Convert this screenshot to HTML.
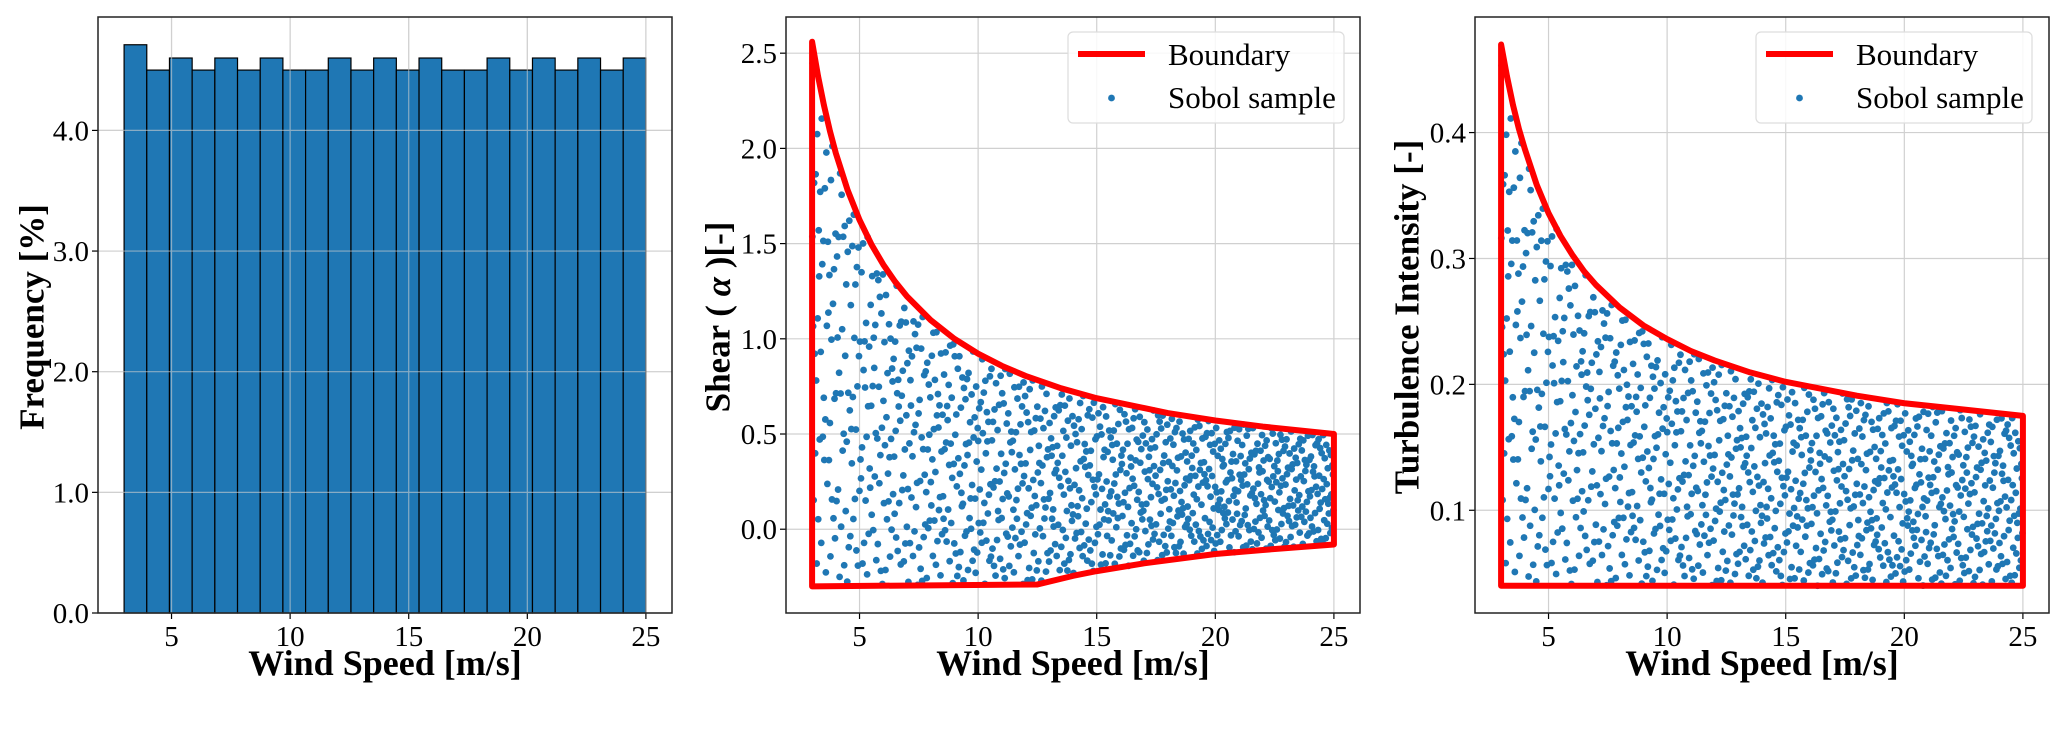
<!DOCTYPE html>
<html><head><meta charset="utf-8"><style>
html,body{margin:0;padding:0;background:#fff}
svg{display:block}
text{font-family:"Liberation Serif",serif;fill:#000}
</style></head><body>
<svg id="fig" width="2067" height="731" viewBox="0 0 2067 731" xmlns="http://www.w3.org/2000/svg"></svg>
<script>
// ---- Data ----
const histBinStart = 3, histBinEnd = 25;
const histFreq = [4.71,4.5,4.6,4.5,4.6,4.5,4.6,4.5,4.5,4.6,4.5,4.6,4.5,4.6,4.5,4.5,4.6,4.5,4.6,4.5,4.6,4.5,4.6];
const histYTicks = [0,1,2,3,4];
const histYTickLabels = ["0.0","1.0","2.0","3.0","4.0"];
const xTicks = [5,10,15,20,25];
const xTickLabels = ["5","10","15","20","25"];

const shearUpperX = [3,3.25,3.5,3.75,4,4.5,5,5.5,6,6.5,7,8,9,10,11,12,13.5,15,18,20,22,25];
const shearUpperY = [2.56,2.38,2.226,2.092,1.975,1.78,1.624,1.496,1.39,1.30,1.223,1.098,1.0,0.922,0.858,0.805,0.74,0.688,0.61,0.571,0.539,0.50];
const shearLowerX = [3,12.5,14,15,17,20,22,25];
const shearLowerY = [-0.3,-0.29,-0.245,-0.22,-0.179,-0.13,-0.109,-0.08];
const shearYTicks = [0,0.5,1,1.5,2,2.5];
const shearYTickLabels = ["0.0","0.5","1.0","1.5","2.0","2.5"];

const tiUpperX = [3,3.25,3.5,3.75,4,4.5,5,5.5,6,6.5,7,8,9,10,11,12,13.5,15,18,20,22,25];
const tiUpperY = [0.470,0.4445,0.422,0.403,0.387,0.3586,0.336,0.318,0.303,0.2898,0.279,0.261,0.2468,0.236,0.2265,0.219,0.2095,0.202,0.191,0.185,0.181,0.175];
const tiLowerX = [3,25];
const tiLowerY = [0.04,0.04];
const tiYTicks = [0.1,0.2,0.3,0.4];
const tiYTickLabels = ["0.1","0.2","0.3","0.4"];
const sampleCount = 1024;

const NS = "http://www.w3.org/2000/svg";
const svg = document.getElementById('fig');
function el(tag, attrs, parent, txt){
  const e = document.createElementNS(NS, tag);
  for (const k in attrs) e.setAttribute(k, attrs[k]);
  if (txt !== undefined) e.textContent = txt;
  (parent || svg).appendChild(e);
  return e;
}
function lin(d0,d1,r0,r1){ return v => r0 + (v-d0)/(d1-d0)*(r1-r0); }
function interp(xs, ys, x){
  if (x <= xs[0]) return ys[0];
  for (let i=1;i<xs.length;i++){ if (x <= xs[i]){ const t=(x-xs[i-1])/(xs[i]-xs[i-1]); return ys[i-1]+t*(ys[i]-ys[i-1]); } }
  return ys[ys.length-1];
}
function halton(i, b){ let f=1, r=0; while(i>0){ f/=b; r+=f*(i%b); i=Math.floor(i/b);} return r; }

function axes(name, L, R, T, B, xd, yd, yTicks, yLabels, ylabel, ylabelX){
  const g = el('g', {});
  
  
  const X = lin(xd[0], xd[1], L, R), Y = lin(yd[0], yd[1], B, T);
  const grid = el('g', {}, g);
  
  
  xTicks.forEach((t,i)=>{
    const x = X(t);
    el('line', {x1:x, x2:x, y1:T, y2:B, stroke:'#d0d0d0', 'stroke-width':1.2}, grid);
    const tk = el('line', {x1:x, x2:x, y1:B, y2:B+6, stroke:'#000', 'stroke-width':1.2}, g);
    
    
    const tl = el('text', {x:x, y:B+33, 'font-size':29, 'text-anchor':'middle'}, g, xTickLabels[i]);
    
    
  });
  yTicks.forEach((t,i)=>{
    const y = Y(t);
    el('line', {x1:L, x2:R, y1:y, y2:y, stroke:'#d0d0d0', 'stroke-width':1.2}, grid);
    const tk = el('line', {x1:L-6, x2:L, y1:y, y2:y, stroke:'#000', 'stroke-width':1.2}, g);
    
    
    const tl = el('text', {x:L-9, y:y+10, 'font-size':29, 'text-anchor':'end'}, g, yLabels[i]);
    
    
  });
  const xl = el('text', {x:(L+R)/2, y:675, 'font-size':36, 'font-weight':'bold', 'text-anchor':'middle'}, g, 'Wind Speed [m/s]');
  
  
  const cy = 317;
  const yl = el('text', {x:ylabelX, y:cy, 'font-size':35, 'font-weight':'bold', 'text-anchor':'middle', transform:`rotate(-90 ${ylabelX} ${cy})`, 'dominant-baseline':'central'}, g);
  yl.innerHTML = ylabel;
  
  
  return {g, X, Y};
}
function frame(g, L,R,T,B){
  const f = el('rect', {x:L, y:T, width:R-L, height:B-T, fill:'none', stroke:'#222', 'stroke-width':1.5}, g);
  
  
}
function legend(g, L, T, W, H){
  const lg = el('g', {}, g);
  
  
  el('rect', {x:L, y:T, width:W, height:H, rx:5, fill:'rgba(255,255,255,0.85)', stroke:'#ddd', 'stroke-width':1.2}, lg);
  const e1 = el('g', {}, lg);
  
  
  el('line', {x1:L+10, x2:L+77, y1:T+22, y2:T+22, stroke:'#ff0000', 'stroke-width':6}, e1);
  el('text', {x:L+100, y:T+33, 'font-size':31}, e1, 'Boundary');
  const e2 = el('g', {}, lg);
  
  
  el('circle', {cx:L+43.5, cy:T+66, r:3.4, fill:'#1f77b4'}, e2);
  el('text', {x:L+100, y:T+76, 'font-size':31}, e2, 'Sobol sample');
}
function boundaryPanel(name, L,R,T,B, yd, yTicks, yLabels, ylabel, ylabelX, ux, uy, lx, ly, legL){
  const a = axes(name, L,R,T,B, [1.9,26.1], yd, yTicks, yLabels, ylabel, ylabelX);
  const pts = el('g', {}, a.g);
  
  
  for (let i=1;i<=sampleCount;i++){
    const u = halton(i,2), v = halton(i,3);
    const xv = 3 + 22*u;
    const hi = interp(ux, uy, xv), lo = interp(lx, ly, xv);
    const yv = lo + v*(hi-lo);
    const c = el('circle', {cx:a.X(xv), cy:a.Y(yv), r:3.4, fill:'#1f77b4'}, pts);
    
    
  }
  let d = `M${a.X(ux[0])},${a.Y(uy[0])}`;
  for (let i=1;i<ux.length;i++) d += ` L${a.X(ux[i])},${a.Y(uy[i])}`;
  for (let i=lx.length-1;i>=0;i--) d += ` L${a.X(lx[i])},${a.Y(ly[i])}`;
  d += ' Z';
  const p = el('path', {d, fill:'none', stroke:'#ff0000', 'stroke-width':6, 'stroke-linejoin':'round'}, a.g);
  
  
  frame(a.g, L,R,T,B);
  legend(a.g, legL, 32, 276, 91);
}

// Panel 1: histogram
(function(){
  const L=98,R=672,T=17,B=613;
  const a = axes('histogram-panel', L,R,T,B, [1.9,26.1], [0,4.94], histYTicks, histYTickLabels, 'Frequency [%]', 32);
  const bars = el('g', {}, a.g);
  
  
  const w = (histBinEnd-histBinStart)/histFreq.length;
  histFreq.forEach((f,i)=>{
    const x0 = a.X(histBinStart+i*w), x1 = a.X(histBinStart+(i+1)*w);
    const r = el('rect', {x:x0, y:a.Y(f), width:x1-x0, height:a.Y(0)-a.Y(f), fill:'#1f77b4', stroke:'#000', 'stroke-width':1.2}, bars);
    
    
  });
  const go = el('g', {opacity:0.6}, a.g);
  xTicks.forEach(t=>el('line',{x1:a.X(t),x2:a.X(t),y1:T,y2:B,stroke:'#d0d0d0','stroke-width':1.2},go));
  histYTicks.forEach(t=>el('line',{x1:L,x2:R,y1:a.Y(t),y2:a.Y(t),stroke:'#d0d0d0','stroke-width':1.2},go));
  frame(a.g, L,R,T,B);
})();

// Panel 2: shear
boundaryPanel('shear-panel', 786,1360,17,613, [-0.44,2.69], shearYTicks, shearYTickLabels,
  'Shear ( <tspan font-style="italic">α</tspan> )[-]', 718, shearUpperX, shearUpperY, shearLowerX, shearLowerY, 1068);

// Panel 3: turbulence intensity
boundaryPanel('turbulence-panel', 1475,2049,17,613, [0.0184,0.4918], tiYTicks, tiYTickLabels,
  'Turbulence Intensity [-]', 1407, tiUpperX, tiUpperY, tiLowerX, tiLowerY, 1756);
</script>
</body></html>
